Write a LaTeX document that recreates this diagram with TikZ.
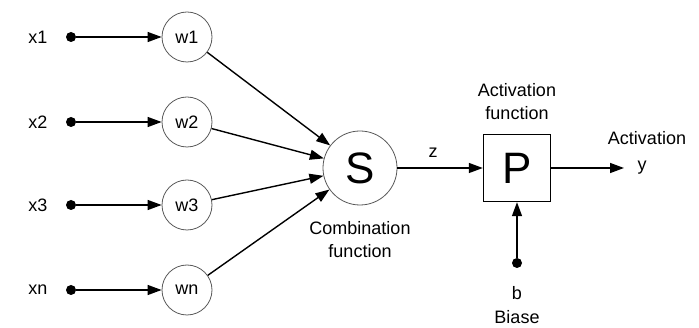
\documentclass[tikz,border=0pt]{standalone}
\usepackage{fontspec}
\setmainfont{Liberation Sans}
\usetikzlibrary{arrows.meta}
\begin{document}
\begin{tikzpicture}[x=1pt,y=-1pt,
  lbl/.style={font=\fontsize{18}{23}\selectfont,inner sep=0pt,align=center},
  wnode/.style={circle,draw=black!65,line width=0.8pt,minimum size=50pt,inner sep=0pt,font=\fontsize{18}{21}\selectfont},
  dot/.style={circle,fill=black,inner sep=0pt,minimum size=10pt},
  conn/.style={line width=1.4pt,-{Triangle[length=14pt,width=10pt]}},
  bigsym/.style={inner sep=0pt,font=\fontsize{44}{46}\selectfont},
]
\useasboundingbox (0,0) rectangle (699,328);

% inputs, weights and their arrows
\foreach \i/\lab/\y in {1/1/37,2/2/122,3/3/205,4/n/290}{
  \node[lbl] (x\i) at (38,\y) {x\lab};
  \node[dot] (d\i) at (71,\y) {};
  \node[wnode] (w\i) at (187,\y) {w\lab};
  \draw[conn] (d\i) -- (w\i);
}

% summation
\node[bigsym,circle,draw=black!65,line width=0.8pt,minimum size=74pt] (S) at (360,168) {S};
\foreach \i in {1,...,4}{ \draw[conn] (w\i) -- (S); }
\node[lbl] (comb) at (360,240) {Combination\\function};

% activation
\node[bigsym,draw=black,line width=1.4pt,minimum size=67pt] (P) at (517,168) {P};
\draw[conn] (S) -- (P);
\node[lbl] (z) at (433,153) {z};
\node[lbl] (actf) at (517,102) {Activation\\function};

% output
\coordinate (out) at (624,168);
\draw[conn] (P) -- (out);
\node[lbl] (act) at (647,138) {Activation};
\node[lbl] (y) at (642,168) {y};

% bias
\node[dot] (bd) at (517,263) {};
\draw[conn] (bd) -- (P);
\node[lbl] (b) at (517,293) {b};
\node[lbl] (biase) at (517,317) {Biase};
\end{tikzpicture}
\end{document}
